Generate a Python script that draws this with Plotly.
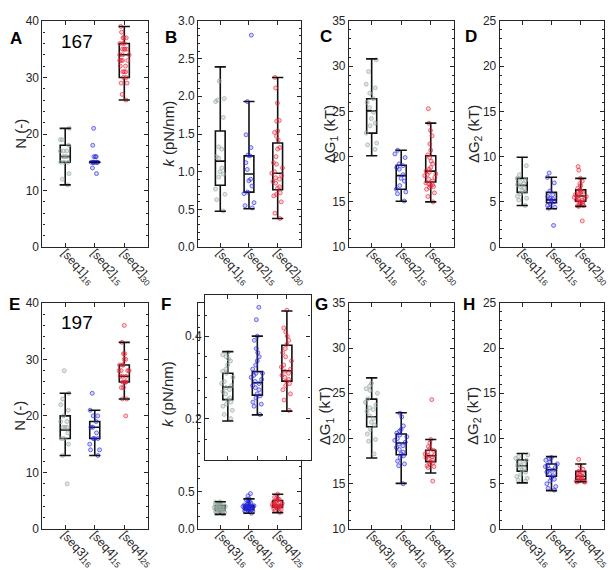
import plotly.graph_objects as go

W, H = 615, 570

# ---------------- data ----------------
cats_top = ["[seq1]<sub>16</sub>", "[seq2]<sub>15</sub>", "[seq2]<sub>30</sub>"]
cats_bot = ["[seq3]<sub>16</sub>", "[seq4]<sub>15</sub>", "[seq4]<sub>25</sub>"]

# Panel A : N
A_pts = [
    [21, 19, 19, 18, 17, 17, 17, 16, 16, 16, 15, 15, 15, 13, 12, 11],
    [21, 18, 16, 16, 16, 15, 15, 15, 15, 15, 15, 15, 15, 14, 13],
    [39, 38, 37, 37, 37, 36, 36, 35, 35, 35, 35, 34, 34, 34, 33, 33, 33, 33,
     32, 32, 31, 31, 31, 30, 30, 29, 29, 27, 26, 36],
]
A_q1 = [15, 15, 30]; A_med = [16, 15, 34]; A_q3 = [18, 15, 36]
A_lo = [11, 15, 26]; A_hi = [21, 15, 39]

# Panel B : k
B_pts = [
    [2.2, 1.97, 1.95, 1.93, 1.72, 1.33, 1.3, 1.2, 1.18, 1.05, 1.0, 0.97, 0.93, 0.77, 0.7, 0.63, 0.48],
    [2.81, 1.93, 1.49, 1.32, 1.22, 1.21, 1.12, 1.03, 0.9, 0.88, 0.81, 0.73, 0.71, 0.59, 0.55, 0.52],
    [2.25, 2.11, 1.91, 1.68, 1.67, 1.54, 1.52, 1.47, 1.42, 1.32, 1.3, 1.2, 1.12, 1.1, 1.05,
     1.0, 0.98, 0.95, 0.92, 0.9, 0.87, 0.85, 0.8, 0.78, 0.72, 0.7, 0.68, 0.6, 0.45, 0.38],
]
B_q1 = [0.82, 0.73, 0.76]; B_med = [1.14, 0.97, 0.98]; B_q3 = [1.54, 1.21, 1.38]
B_lo = [0.475, 0.51, 0.38]; B_hi = [2.39, 1.93, 2.25]

# Panel C : dG1
C_pts = [
    [30.7, 29.4, 28.0, 27.6, 27.0, 26.4, 26.0, 25.4, 24.9, 24.2, 23.7, 23.4, 22.6, 21.5, 21.3, 20.8],
    [20.7, 20.3, 19.9, 19.2, 19.0, 18.8, 18.6, 18.0, 17.6, 17.3, 16.8, 16.4, 16.1, 15.9, 15.1],
    [25.3, 23.7, 22.9, 22.3, 21.4, 20.7, 20.2, 19.9, 19.5, 19.2, 18.8, 18.6, 18.4, 18.3, 18.1,
     18.0, 17.9, 17.7, 17.5, 17.3, 17.1, 17.0, 16.9, 16.8, 16.7, 16.6, 16.4, 16.0, 15.6, 15.0],
]
C_q1 = [22.6, 16.4, 17.2]; C_med = [25.05, 17.9, 18.4]; C_q3 = [26.4, 19.05, 20.1]
C_lo = [20.1, 15.07, 15.0]; C_hi = [30.8, 20.7, 23.7]

# Panel D : dG2
D_pts = [
    [9.0, 8.0, 7.6, 7.4, 7.2, 7.0, 6.9, 6.7, 6.5, 6.3, 6.1, 5.9, 5.6, 5.4, 5.2, 4.6],
    [8.2, 7.7, 7.1, 6.2, 5.8, 5.6, 5.4, 5.3, 5.2, 5.0, 4.8, 4.6, 4.4, 4.3, 2.4],
    [8.9, 8.5, 7.6, 7.3, 7.0, 6.8, 6.5, 6.3, 6.2, 6.0, 5.9, 5.8, 5.7, 5.6, 5.6,
     5.5, 5.4, 5.3, 5.2, 5.1, 5.0, 4.9, 4.8, 4.7, 4.6, 4.6, 4.5, 5.2, 6.1, 2.9],
]
D_q1 = [6.05, 4.9, 5.07]; D_med = [6.83, 5.22, 5.65]; D_q3 = [7.6, 6.05, 6.33]
D_lo = [4.6, 4.25, 4.5]; D_hi = [9.93, 7.73, 7.6]

# Panel E : N
E_pts = [
    [28, 24, 23, 22, 21, 20, 19, 19, 18, 18, 18, 17, 16, 16, 15, 13, 8],
    [24, 21, 20, 20, 19, 18, 18, 17, 16, 16, 16, 15, 14, 14, 13],
    [36, 33, 31, 31, 30, 30, 29, 29, 28, 28, 28, 28, 27, 27, 27, 26, 26, 26, 26,
     25, 25, 23, 23, 20, 29],
]
E_q1 = [16, 16, 26]; E_med = [17.5, 18, 27]; E_q3 = [20, 19, 29]
E_lo = [13, 13, 23]; E_hi = [24, 21, 33]

# Panel F : k (also shown in inset)
F_pts = [
    [0.36, 0.355, 0.35, 0.345, 0.34, 0.33, 0.32, 0.315, 0.31, 0.30, 0.29, 0.285, 0.28, 0.275,
     0.27, 0.265, 0.26, 0.25, 0.245, 0.24, 0.235, 0.23, 0.22, 0.21, 0.2],
    [0.47, 0.44, 0.40, 0.39, 0.37, 0.36, 0.35, 0.34, 0.33, 0.32, 0.31, 0.31, 0.305, 0.30, 0.295,
     0.29, 0.285, 0.28, 0.275, 0.27, 0.26, 0.255, 0.25, 0.24, 0.235, 0.23, 0.21],
    [0.463, 0.42, 0.41, 0.40, 0.39, 0.38, 0.37, 0.36, 0.35, 0.34, 0.33, 0.325, 0.32, 0.315,
     0.31, 0.305, 0.30, 0.295, 0.29, 0.285, 0.28, 0.27, 0.26, 0.245, 0.22],
]
F_q1 = [0.246, 0.257, 0.291]; F_med = [0.2765, 0.287, 0.316]; F_q3 = [0.31, 0.314, 0.378]
F_lo = [0.194, 0.209, 0.218]; F_hi = [0.3625, 0.40, 0.461]

# Panel G : dG1
G_pts = [
    [26.1, 25.8, 25.5, 25.3, 25.0, 24.4, 24.0, 23.7, 23.4, 23.2, 23.0, 22.5, 22.2, 21.8,
     21.5, 21.0, 20.5, 19.9, 19.7, 18.3],
    [22.8, 22.4, 21.4, 21.0, 20.8, 20.6, 20.4, 20.2, 20.0, 19.8, 19.6, 19.4, 19.2, 19.0,
     18.8, 18.5, 18.3, 18.1, 17.9, 17.5, 17.2, 17.0, 15.0],
    [24.3, 19.9, 19.5, 19.1, 18.9, 18.7, 18.5, 18.3, 18.2, 18.1, 18.0, 17.9, 17.8, 17.6,
     17.4, 17.3, 17.2, 17.0, 16.9, 16.8, 15.3],
]
G_q1 = [21.3, 18.2, 17.45]; G_med = [22.4, 19.5, 18.1]; G_q3 = [24.35, 20.5, 18.7]
G_lo = [17.85, 15.05, 16.2]; G_hi = [26.7, 22.85, 19.9]

# Panel H : dG2
H_pts = [
    [8.2, 8.0, 7.8, 7.6, 7.4, 7.2, 7.0, 6.9, 6.7, 6.5, 6.3, 6.0, 5.8, 5.6, 5.4, 5.3],
    [7.9, 7.8, 7.6, 7.4, 7.2, 7.0, 6.9, 6.8, 6.6, 6.5, 6.3, 6.1, 5.9, 5.7, 5.5, 5.3, 5.0,
     4.7, 4.5, 4.3],
    [7.7, 7.0, 6.6, 6.4, 6.3, 6.2, 6.0, 5.9, 5.8, 5.7, 5.6, 5.5, 5.4, 5.3, 5.3, 5.2, 5.2, 5.2],
]
H_q1 = [6.4, 5.83, 5.47]; H_med = [7.0, 6.55, 5.83]; H_q3 = [7.63, 7.19, 6.37]
H_lo = [5.1, 4.25, 5.22]; H_hi = [8.35, 8.0, 7.19]

y_titles = ["N (-)", "<i>k</i> (pN/nm)", "ΔG<sub>1</sub> (kT)", "ΔG<sub>2</sub> (kT)",
            "N (-)", "<i>k</i> (pN/nm)", "ΔG<sub>1</sub> (kT)", "ΔG<sub>2</sub> (kT)"]

pt_colors = ["rgba(150,170,160,0.8)", "rgba(40,40,235,0.8)", "rgba(235,35,55,0.8)"]
pt_fill = ["rgba(150,170,160,0.3)", "rgba(40,40,235,0.2)", "rgba(235,35,55,0.2)"]

panels = [
    (1, A_pts, A_q1, A_med, A_q3, A_lo, A_hi),
    (2, B_pts, B_q1, B_med, B_q3, B_lo, B_hi),
    (3, C_pts, C_q1, C_med, C_q3, C_lo, C_hi),
    (4, D_pts, D_q1, D_med, D_q3, D_lo, D_hi),
    (5, E_pts, E_q1, E_med, E_q3, E_lo, E_hi),
    (6, F_pts, F_q1, F_med, F_q3, F_lo, F_hi),
    (7, G_pts, G_q1, G_med, G_q3, G_lo, G_hi),
    (8, H_pts, H_q1, H_med, H_q3, H_lo, H_hi),
    (9, F_pts, F_q1, F_med, F_q3, F_lo, F_hi),
]

fig = go.Figure()

for key, pts, q1, med, q3, lo, hi in panels:
    xa = "x" if key == 1 else f"x{key}"
    ya = "y" if key == 1 else f"y{key}"
    for i in range(3):
        fig.add_trace(go.Box(
            x=[i], q1=[q1[i]], median=[med[i]], q3=[q3[i]],
            lowerfence=[lo[i]], upperfence=[hi[i]],
            width=0.34, boxpoints=False, fillcolor="rgba(0,0,0,0)",
            line=dict(color="#111111", width=1.6), whiskerwidth=0,
            xaxis=xa, yaxis=ya, showlegend=False, hoverinfo="skip"))
        fig.add_trace(go.Scatter(
            x=[i, i], y=[lo[i], hi[i]], mode="markers",
            marker=dict(symbol="line-ew", size=8, line=dict(color="#111111", width=1.6)),
            xaxis=xa, yaxis=ya, showlegend=False, hoverinfo="skip"))
        fig.add_trace(go.Box(
            y=pts[i], x0=i, width=0.5, boxpoints="all", jitter=0.9, pointpos=0,
            fillcolor="rgba(0,0,0,0)", line=dict(color="rgba(0,0,0,0)", width=0),
            marker=dict(size=4, color=pt_fill[i], line=dict(color=pt_colors[i], width=0.8)),
            xaxis=xa, yaxis=ya, showlegend=False, hoveron="points"))


def xd(l, r):
    return [l / W, r / W]


def yd(t, b):
    return [1 - b / H, 1 - t / H]


cols = [(35, 142), (193, 297), (346, 453), (499, 605)]
rows = [(6, 238), (295, 527)]
FAM = "Liberation Sans, Arial, sans-serif"
tickfont = dict(family=FAM, size=12, color="#262626")
xtickfont = dict(family=FAM, size=12, color="#262626")
titlefont = dict(family=FAM, size=15, color="#262626")

yspecs = {
    1: dict(range=[0, 40], dtick=10, mdt=2),
    2: dict(range=[0, 3], dtick=0.5, tickformat=".1f", mdt=0.1),
    3: dict(range=[10, 35], dtick=5, mdt=1),
    4: dict(range=[0, 25], dtick=5, mdt=1),
    5: dict(range=[0, 40], dtick=10, mdt=2),
    6: dict(range=[0, 3], tickvals=[0, 0.5], ticktext=["0.0", "0.5"], mdt=0.5 / 3),
    7: dict(range=[10, 35], dtick=5, mdt=1),
    8: dict(range=[0, 25], dtick=5, mdt=1),
    9: dict(range=[0.1, 0.5], tickvals=[0.2, 0.4], ticktext=["0.2", "0.4"], mdt=0.05),
}

layout = dict(
    width=W, height=H, margin=dict(l=0, r=0, t=0, b=0),
    paper_bgcolor="white", plot_bgcolor="white", boxmode="overlay",
    font=tickfont, showlegend=False,
)

axcommon = dict(showline=True, linecolor="#262626", linewidth=1.1, mirror="ticks",
                ticks="inside", ticklen=4, tickwidth=1, tickcolor="#262626",
                showgrid=False, zeroline=False)

for key in range(1, 10):
    if key <= 8:
        r = 0 if key <= 4 else 1
        c = (key - 1) % 4
        xdom = xd(*cols[c]); ydom = yd(*rows[r])
        cats = cats_top if r == 0 else cats_bot
    else:
        xdom = xd(200, 307); ydom = yd(287, 456)
        cats = cats_bot
    xn = "xaxis" if key == 1 else f"xaxis{key}"
    yn = "yaxis" if key == 1 else f"yaxis{key}"
    xid = "x" if key == 1 else f"x{key}"
    yid = "y" if key == 1 else f"y{key}"
    xax = dict(axcommon, domain=xdom, anchor=yid, range=[-0.77, 2.8],
               tickvals=[0, 1, 2], tickfont=xtickfont)
    if key == 9:
        xax.update(showticklabels=False)
    else:
        xax.update(ticktext=cats, tickangle=48, ticklabelstandoff=-7)
    layout[xn] = xax
    s = dict(yspecs[key])
    mdt = s.pop("mdt")
    layout[yn] = dict(axcommon, domain=ydom, anchor=xid, tickfont=tickfont,
                      minor=dict(ticks="inside", ticklen=2, tickcolor="#262626", dtick=mdt),
                      **s)

fig.update_layout(**layout)

letters = [("A", 8, 24), ("B", 165, 23), ("C", 323, 22), ("D", 470, 22),
           ("E", 7, 297), ("F", 160, 297), ("G", 318, 297), ("H", 468, 297)]
for t, px, py in letters:
    fig.add_annotation(text=f"<b>{t}</b>", x=px / W, y=1 - py / H, xref="paper", yref="paper",
                       showarrow=False, xanchor="center", yanchor="middle",
                       font=dict(family=FAM, size=17, color="black"))

for t, px, py in [("167", 70, 27), ("197", 70, 315)]:
    fig.add_annotation(text=t, x=px / W, y=1 - py / H, xref="paper", yref="paper",
                       showarrow=False, xanchor="center", yanchor="middle",
                       font=dict(family=FAM, size=19, color="black"))

title_pos = [(12, 122), (162, 122), (327, 122), (473, 122),
             (12, 411), (162, 389), (323, 411), (473, 411)]
for t, (px, py) in zip(y_titles, title_pos):
    fig.add_annotation(text=t, x=px / W, y=1 - py / H, xref="paper", yref="paper",
                       showarrow=False, textangle=-90, xanchor="center", yanchor="middle",
                       font=titlefont)

fig.write_html("out.html")
